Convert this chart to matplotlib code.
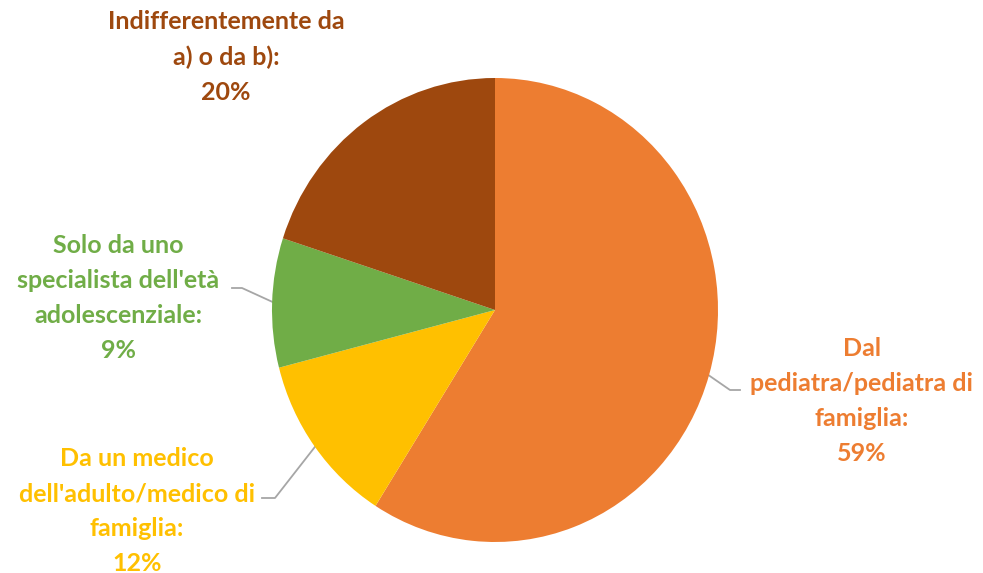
import numpy as np
import matplotlib.pyplot as plt

# dati
labels = ["Dal\npediatra/pediatra di\nfamiglia:",
          "Da un medico\ndell'adulto/medico di\nfamiglia:",
          "Solo da uno\nspecialista dell'età\nadolescenziale:",
          "Indifferentemente da\na) o da b):"]
values = [59, 12, 9, 20]
colors = ["#ED7D31", "#FFC000", "#70AD47", "#9E480E"]

plt.rcParams['font.family'] = ['Lato', 'DejaVu Sans']

W, H = 983, 573
fig = plt.figure(figsize=(W / 100, H / 100), dpi=100)
# pie box in pixel (leggermente ellittica come nell'originale)
cx, cy, rx, ry = 495, 310, 223, 232
ax = fig.add_axes([(cx - rx) / W, (H - cy - ry) / H, 2 * rx / W, 2 * ry / H])

wedges, _ = ax.pie(values, colors=colors, startangle=90, counterclock=False,
                   radius=1, wedgeprops=dict(linewidth=0))
ax.set_aspect('auto')
ax.set_xlim(-1, 1)
ax.set_ylim(-1, 1)
ax.axis('off')


def px(x, y):
    # pixel -> coordinate dati
    return (x - cx) / rx, (cy - y) / ry


# posizione etichette (centro in pixel) e gomito della linea guida
label_pos = [(862, 401), (137, 511), (118, 298), (226, 57)]
elbows = [((740, 390), (730, 390)), ((262, 498), (275, 498)),
          ((232, 288), (242, 288)), None]

for w, lab, v, c, pos, elb in zip(wedges, labels, values, colors, label_pos, elbows):
    tx, ty = px(*pos)
    ax.text(tx, ty, f"{lab}\n{v}%", ha='center', va='center', color=c,
            fontsize=18, fontweight='bold', linespacing=1.62, clip_on=False)
    if elb is not None:
        ang = np.deg2rad((w.theta1 + w.theta2) / 2)
        ex, ey = np.cos(ang) * 0.99, np.sin(ang) * 0.99
        (ax1, ay1), (ax2, ay2) = px(*elb[0]), px(*elb[1])
        ax.plot([ax1, ax2, ex], [ay1, ay2, ey], color="#A6A6A6", lw=1.3,
                clip_on=False, zorder=0.5)

fig.savefig("out.png", dpi=100)
